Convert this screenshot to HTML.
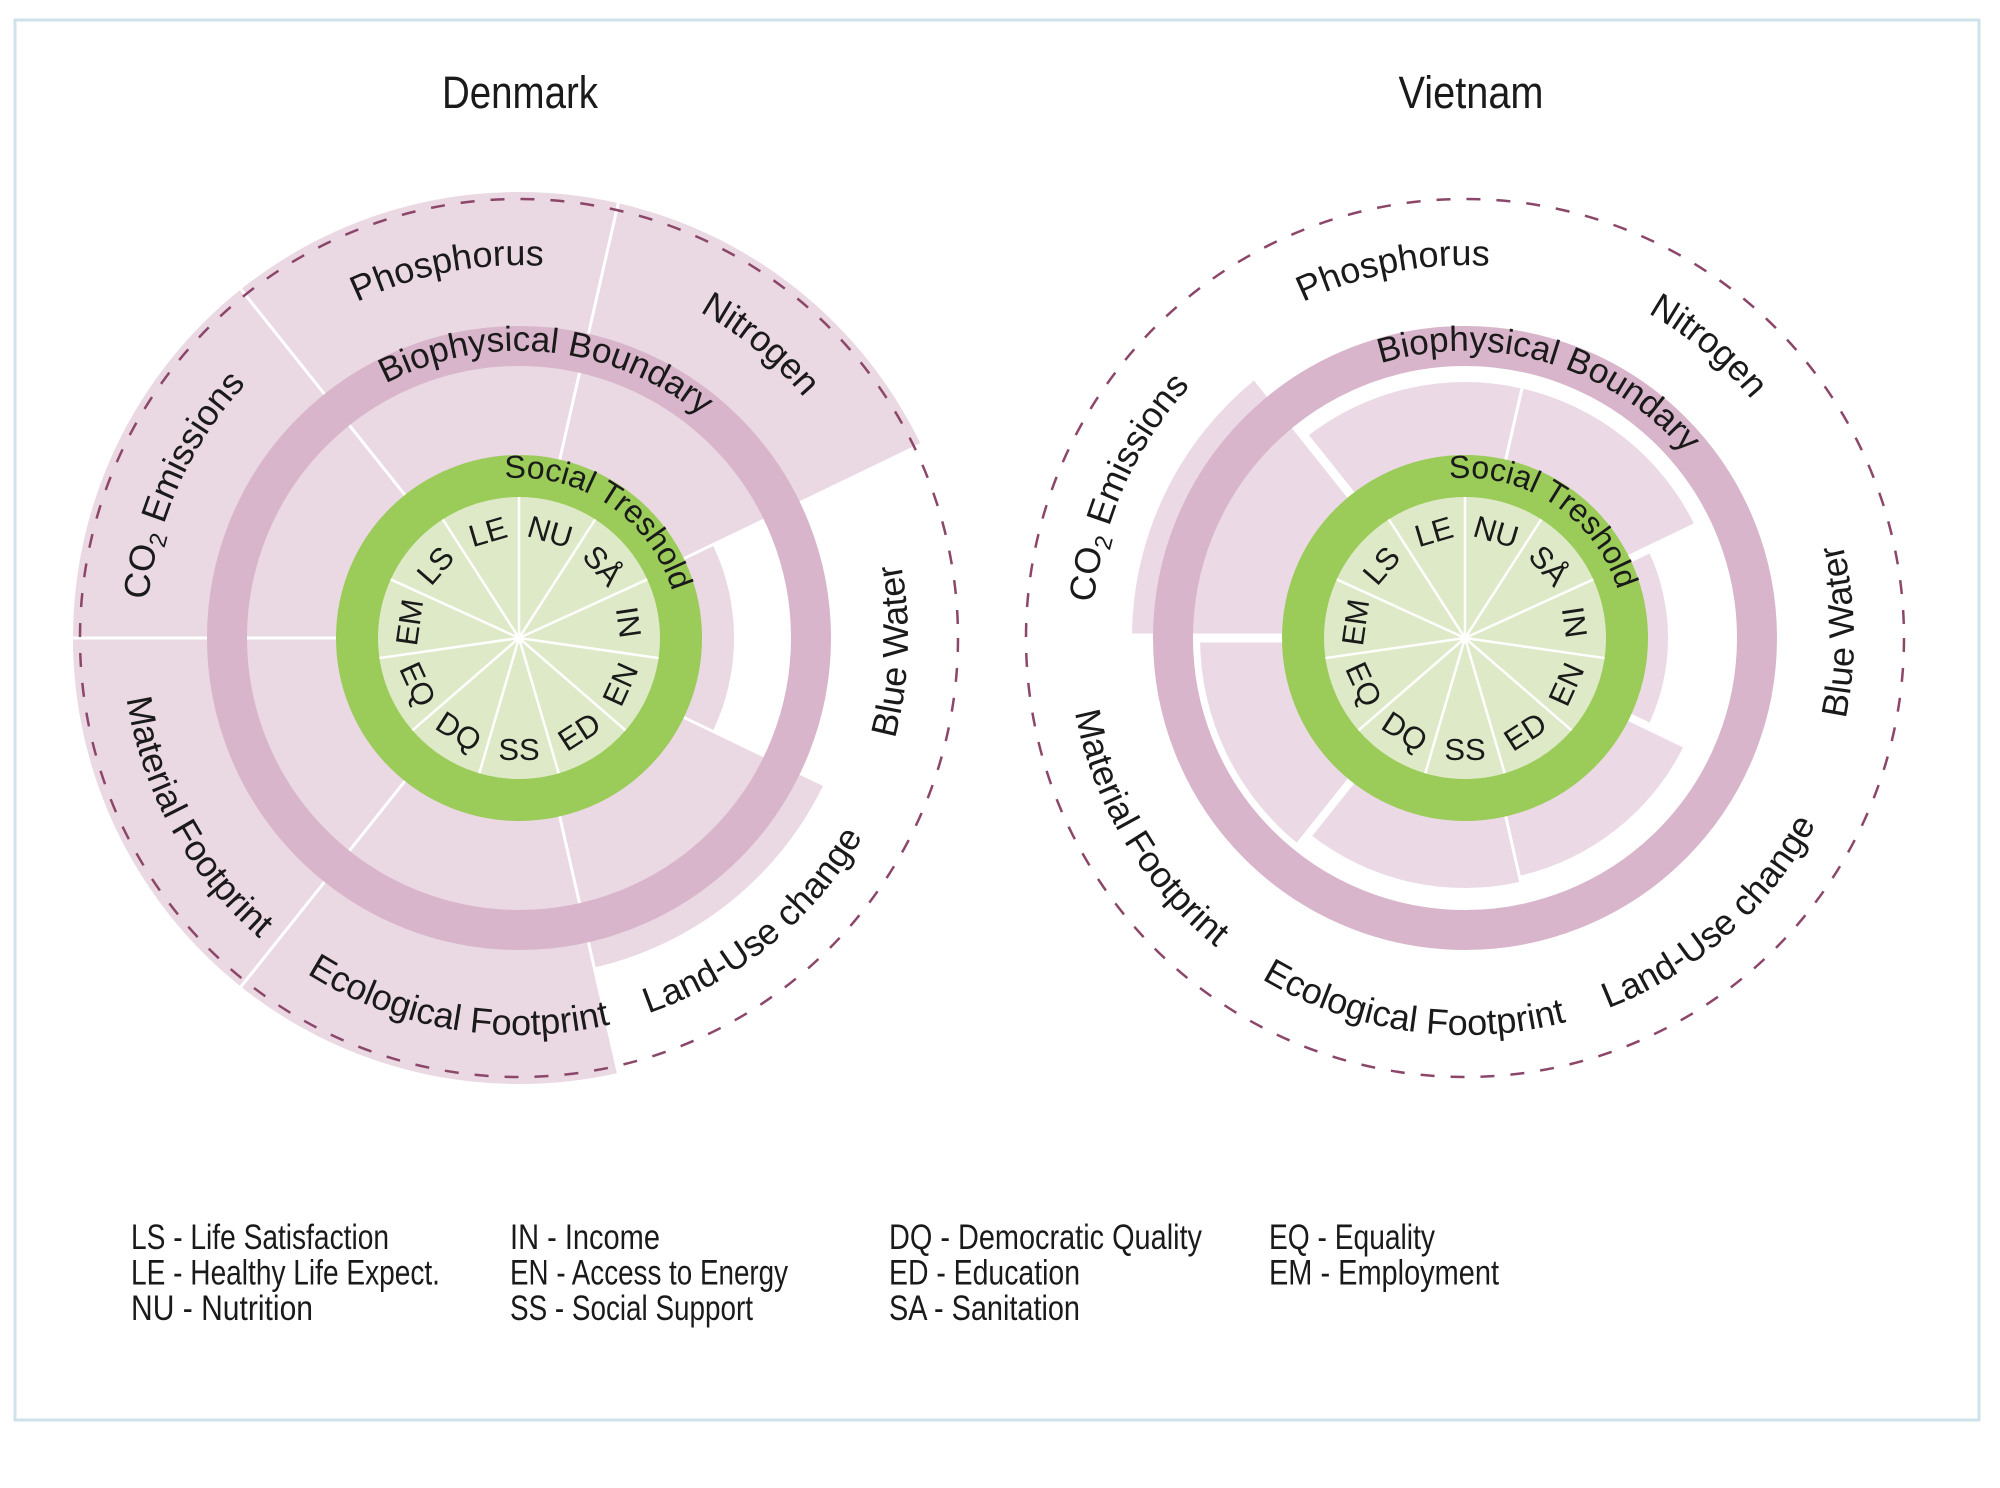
<!DOCTYPE html>
<html>
<head>
<meta charset="utf-8">
<style>
html,body{margin:0;padding:0;background:#ffffff;}
svg{display:block;}
text{font-family:"Liberation Sans",Arial,sans-serif;fill:#1a1a1a;}
</style>
</head>
<body>
<svg width="2000" height="1488" viewBox="0 0 2000 1488" xmlns="http://www.w3.org/2000/svg" xmlns:xlink="http://www.w3.org/1999/xlink">
<defs>
  <path id="cw373" d="M-372.94,-6.51 A373,373 0 0 1 372.94,-6.51"/>
  <path id="ccw397" d="M-396.94,6.93 A397,397 0 0 0 396.94,6.93"/>
  <path id="ccw389" d="M-388.94,6.79 A389,389 0 0 0 388.94,6.79"/>
  <path id="cw287" d="M-286.96,-5.01 A287,287 0 0 1 286.96,-5.01"/>
  <path id="cw160" d="M-159.98,-2.79 A160,160 0 0 1 159.98,-2.79"/>
</defs>

<rect x="0" y="0" width="2000" height="1488" fill="#ffffff"/>
<rect x="15" y="20" width="1964" height="1400" fill="none" stroke="#cfe2ea" stroke-width="3"/>

<!-- Titles -->
<text x="520" y="108" text-anchor="middle" font-size="45" textLength="156" lengthAdjust="spacingAndGlyphs">Denmark</text>
<text x="1471" y="108" text-anchor="middle" font-size="45" textLength="145" lengthAdjust="spacingAndGlyphs">Vietnam</text>

<!-- ================= DENMARK ================= -->
<g transform="translate(519,638)">
  <g fill="#ead8e3">
    <path d="M0,0 L0,-446 A446,446 0 0 1 348.7,-278.1 Z" transform="rotate(12.857)"/>
    <path d="M0,0 L0,-215 A215,215 0 0 1 168.1,-134.1 Z" transform="rotate(64.286)"/>
    <path d="M0,0 L0,-338 A338,338 0 0 1 264.3,-210.7 Z" transform="rotate(115.714)"/>
    <path d="M0,0 L0,-446 A446,446 0 0 1 348.7,-278.1 Z" transform="rotate(167.143)"/>
    <path d="M0,0 L0,-446 A446,446 0 0 1 348.7,-278.1 Z" transform="rotate(218.571)"/>
    <path d="M0,0 L0,-446 A446,446 0 0 1 348.7,-278.1 Z" transform="rotate(270)"/>
    <path d="M0,0 L0,-446 A446,446 0 0 1 348.7,-278.1 Z" transform="rotate(321.429)"/>
  </g>
  <g stroke="#ffffff" stroke-width="3">
    <line x1="0" y1="0" x2="0" y2="-450" transform="rotate(12.857)"/>
    <line x1="0" y1="0" x2="0" y2="-450" transform="rotate(64.286)"/>
    <line x1="0" y1="0" x2="0" y2="-450" transform="rotate(115.714)"/>
    <line x1="0" y1="0" x2="0" y2="-450" transform="rotate(167.143)"/>
    <line x1="0" y1="0" x2="0" y2="-450" transform="rotate(218.571)"/>
    <line x1="0" y1="0" x2="0" y2="-450" transform="rotate(270)"/>
    <line x1="0" y1="0" x2="0" y2="-450" transform="rotate(321.429)"/>
  </g>
  <circle r="292" fill="none" stroke="#d8b5ca" stroke-width="40"/>
  <circle r="162" fill="#dee9c8" stroke="#9bcb59" stroke-width="42"/>
  <g stroke="#ffffff" stroke-width="2.5">
    <line x1="0" y1="0" x2="0" y2="-141" transform="rotate(0)"/>
    <line x1="0" y1="0" x2="0" y2="-141" transform="rotate(32.727)"/>
    <line x1="0" y1="0" x2="0" y2="-141" transform="rotate(65.455)"/>
    <line x1="0" y1="0" x2="0" y2="-141" transform="rotate(98.182)"/>
    <line x1="0" y1="0" x2="0" y2="-141" transform="rotate(130.909)"/>
    <line x1="0" y1="0" x2="0" y2="-141" transform="rotate(163.636)"/>
    <line x1="0" y1="0" x2="0" y2="-141" transform="rotate(196.364)"/>
    <line x1="0" y1="0" x2="0" y2="-141" transform="rotate(229.091)"/>
    <line x1="0" y1="0" x2="0" y2="-141" transform="rotate(261.818)"/>
    <line x1="0" y1="0" x2="0" y2="-141" transform="rotate(294.545)"/>
    <line x1="0" y1="0" x2="0" y2="-141" transform="rotate(327.273)"/>
  </g>
  <circle r="4" fill="#ffffff"/>
  <circle r="439" fill="none" stroke="#8b4669" stroke-width="2.5" stroke-dasharray="14 16"/>

  <!-- inner labels -->
  <g font-size="31" text-anchor="middle">
    <text transform="rotate(343.64) translate(0,-100)">LE</text>
    <text transform="rotate(16.36) translate(0,-100)">NU</text>
    <text transform="rotate(49.09) translate(0,-100)">SÅ</text>
    <text transform="rotate(81.82) translate(0,-100)">IN</text>
    <text transform="rotate(278.18) translate(0,-100)">EM</text>
    <text transform="rotate(310.91) translate(0,-100)">LS</text>
    <text transform="rotate(114.55) translate(0,-122) rotate(180)">EN</text>
    <text transform="rotate(147.27) translate(0,-122) rotate(180)">ED</text>
    <text transform="rotate(180) translate(0,-122) rotate(180)">SS</text>
    <text transform="rotate(212.73) translate(0,-122) rotate(180)">DQ</text>
    <text transform="rotate(245.45) translate(0,-122) rotate(180)">EQ</text>
  </g>

  <!-- ring labels -->
  <text font-size="32" text-anchor="middle" transform="rotate(34)"><textPath href="#cw160" xlink:href="#cw160" startOffset="50%">Social Treshold</textPath></text>
  <text font-size="35" text-anchor="middle" transform="rotate(5.9)"><textPath href="#cw287" xlink:href="#cw287" startOffset="50%">Biophysical Boundary</textPath></text>

  <!-- outer labels -->
  <g font-size="36" text-anchor="middle">
    <text transform="rotate(-11)"><textPath href="#cw373" xlink:href="#cw373" startOffset="50%">Phosphorus</textPath></text>
    <text transform="rotate(39.4)"><textPath href="#cw373" xlink:href="#cw373" startOffset="50%">Nitrogen</textPath></text>
    <text transform="rotate(-88)"><textPath href="#ccw389" xlink:href="#ccw389" startOffset="50%">Blue Water</textPath></text>
    <text transform="rotate(-39.5)"><textPath href="#ccw397" xlink:href="#ccw397" startOffset="50%">Land-Use change</textPath></text>
    <text transform="rotate(9.5)"><textPath href="#ccw397" xlink:href="#ccw397" startOffset="50%">Ecological Footprint</textPath></text>
    <text transform="rotate(61)"><textPath href="#ccw397" xlink:href="#ccw397" startOffset="50%">Material Footprint</textPath></text>
    <text transform="rotate(-65.6)"><textPath href="#cw373" xlink:href="#cw373" startOffset="50%">CO<tspan font-size="24" dy="7">2</tspan><tspan dy="-7"> Emissions</tspan></textPath></text>
  </g>
</g>

<!-- ================= VIETNAM ================= -->
<g transform="translate(1465,638)">
  <g fill="#ebdae5">
    <path d="M0,0 L0,-256 A256,256 0 0 1 200.1,-159.6 Z" transform="rotate(12.857)"/>
    <path d="M0,0 L0,-203 A203,203 0 0 1 158.7,-126.6 Z" transform="rotate(64.286)"/>
    <path d="M0,0 L0,-244 A244,244 0 0 1 190.8,-152.1 Z" transform="rotate(115.714)"/>
    <path d="M0,0 L0,-250 A250,250 0 0 1 195.5,-155.9 Z" transform="rotate(167.143)"/>
    <path d="M0,0 L0,-265 A265,265 0 0 1 207.2,-165.2 Z" transform="rotate(218.571)"/>
    <path d="M0,0 L0,-333 A333,333 0 0 1 260.3,-207.6 Z" transform="rotate(270)"/>
    <path d="M0,0 L0,-256 A256,256 0 0 1 200.1,-159.6 Z" transform="rotate(321.429)"/>
  </g>
  <g stroke="#ffffff">
    <line x1="0" y1="0" x2="0" y2="-340" stroke-width="3" transform="rotate(12.857)"/>
    <line x1="0" y1="0" x2="0" y2="-340" stroke-width="8" transform="rotate(64.286)"/>
    <line x1="0" y1="0" x2="0" y2="-340" stroke-width="8" transform="rotate(115.714)"/>
    <line x1="0" y1="0" x2="0" y2="-340" stroke-width="3" transform="rotate(167.143)"/>
    <line x1="0" y1="0" x2="0" y2="-340" stroke-width="8" transform="rotate(218.571)"/>
    <line x1="0" y1="0" x2="0" y2="-340" stroke-width="9" transform="rotate(270)"/>
    <line x1="0" y1="0" x2="0" y2="-340" stroke-width="9" transform="rotate(321.429)"/>
  </g>
  <circle r="292" fill="none" stroke="#d8b5ca" stroke-width="40"/>
  <circle r="162" fill="#dee9c8" stroke="#9bcb59" stroke-width="42"/>
  <g stroke="#ffffff" stroke-width="2.5">
    <line x1="0" y1="0" x2="0" y2="-141" transform="rotate(0)"/>
    <line x1="0" y1="0" x2="0" y2="-141" transform="rotate(32.727)"/>
    <line x1="0" y1="0" x2="0" y2="-141" transform="rotate(65.455)"/>
    <line x1="0" y1="0" x2="0" y2="-141" transform="rotate(98.182)"/>
    <line x1="0" y1="0" x2="0" y2="-141" transform="rotate(130.909)"/>
    <line x1="0" y1="0" x2="0" y2="-141" transform="rotate(163.636)"/>
    <line x1="0" y1="0" x2="0" y2="-141" transform="rotate(196.364)"/>
    <line x1="0" y1="0" x2="0" y2="-141" transform="rotate(229.091)"/>
    <line x1="0" y1="0" x2="0" y2="-141" transform="rotate(261.818)"/>
    <line x1="0" y1="0" x2="0" y2="-141" transform="rotate(294.545)"/>
    <line x1="0" y1="0" x2="0" y2="-141" transform="rotate(327.273)"/>
  </g>
  <circle r="4" fill="#ffffff"/>
  <circle r="439" fill="none" stroke="#8b4669" stroke-width="2.5" stroke-dasharray="14 16"/>

  <g font-size="31" text-anchor="middle">
    <text transform="rotate(343.64) translate(0,-100)">LE</text>
    <text transform="rotate(16.36) translate(0,-100)">NU</text>
    <text transform="rotate(49.09) translate(0,-100)">SÅ</text>
    <text transform="rotate(81.82) translate(0,-100)">IN</text>
    <text transform="rotate(278.18) translate(0,-100)">EM</text>
    <text transform="rotate(310.91) translate(0,-100)">LS</text>
    <text transform="rotate(114.55) translate(0,-122) rotate(180)">EN</text>
    <text transform="rotate(147.27) translate(0,-122) rotate(180)">ED</text>
    <text transform="rotate(180) translate(0,-122) rotate(180)">SS</text>
    <text transform="rotate(212.73) translate(0,-122) rotate(180)">DQ</text>
    <text transform="rotate(245.45) translate(0,-122) rotate(180)">EQ</text>
  </g>

  <text font-size="32" text-anchor="middle" transform="rotate(33.5)"><textPath href="#cw160" xlink:href="#cw160" startOffset="50%">Social Treshold</textPath></text>
  <text font-size="35" text-anchor="middle" transform="rotate(16.5)"><textPath href="#cw287" xlink:href="#cw287" startOffset="50%">Biophysical Boundary</textPath></text>

  <g font-size="36" text-anchor="middle">
    <text transform="rotate(-11)"><textPath href="#cw373" xlink:href="#cw373" startOffset="50%">Phosphorus</textPath></text>
    <text transform="rotate(39.8)"><textPath href="#cw373" xlink:href="#cw373" startOffset="50%">Nitrogen</textPath></text>
    <text transform="rotate(-91)"><textPath href="#ccw389" xlink:href="#ccw389" startOffset="50%">Blue Water</textPath></text>
    <text transform="rotate(-41.6)"><textPath href="#ccw397" xlink:href="#ccw397" startOffset="50%">Land-Use change</textPath></text>
    <text transform="rotate(8)"><textPath href="#ccw397" xlink:href="#ccw397" startOffset="50%">Ecological Footprint</textPath></text>
    <text transform="rotate(59)"><textPath href="#ccw397" xlink:href="#ccw397" startOffset="50%">Material Footprint</textPath></text>
    <text transform="rotate(-66)"><textPath href="#cw373" xlink:href="#cw373" startOffset="50%">CO<tspan font-size="24" dy="7">2</tspan><tspan dy="-7"> Emissions</tspan></textPath></text>
  </g>
</g>

<!-- ================= LEGEND ================= -->
<g font-size="35">
  <text x="131" y="1249" textLength="258" lengthAdjust="spacingAndGlyphs">LS - Life Satisfaction</text>
  <text x="131" y="1284.5" textLength="309" lengthAdjust="spacingAndGlyphs">LE - Healthy Life Expect.</text>
  <text x="131" y="1320" textLength="182" lengthAdjust="spacingAndGlyphs">NU - Nutrition</text>

  <text x="510" y="1249" textLength="150" lengthAdjust="spacingAndGlyphs">IN - Income</text>
  <text x="510" y="1284.5" textLength="278" lengthAdjust="spacingAndGlyphs">EN - Access to Energy</text>
  <text x="510" y="1320" textLength="243" lengthAdjust="spacingAndGlyphs">SS - Social Support</text>

  <text x="889" y="1249" textLength="313" lengthAdjust="spacingAndGlyphs">DQ - Democratic Quality</text>
  <text x="889" y="1284.5" textLength="191" lengthAdjust="spacingAndGlyphs">ED - Education</text>
  <text x="889" y="1320" textLength="191" lengthAdjust="spacingAndGlyphs">SA - Sanitation</text>

  <text x="1269" y="1249" textLength="166" lengthAdjust="spacingAndGlyphs">EQ - Equality</text>
  <text x="1269" y="1284.5" textLength="230" lengthAdjust="spacingAndGlyphs">EM - Employment</text>
</g>
</svg>
</body>
</html>
